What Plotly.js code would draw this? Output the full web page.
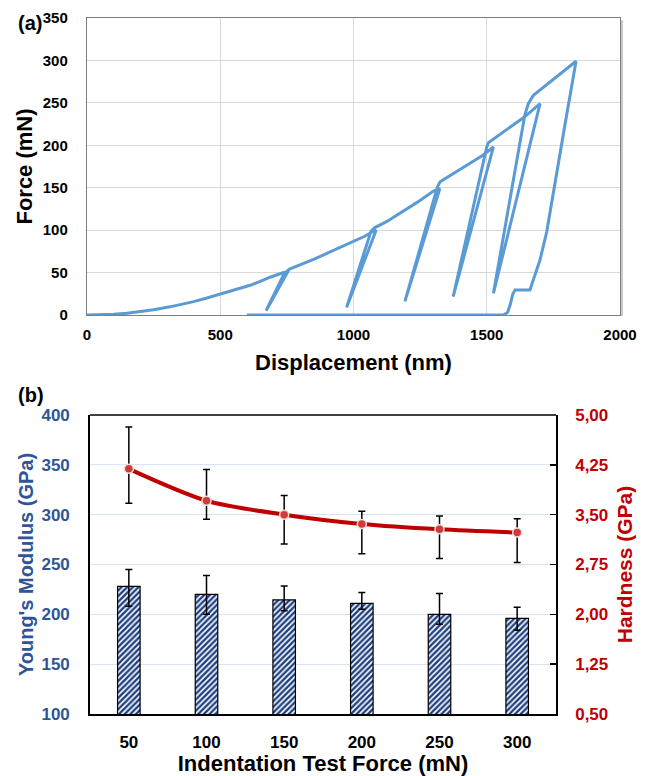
<!DOCTYPE html>
<html>
<head>
<meta charset="utf-8">
<script src="https://cdn.plot.ly/plotly-3.0.1.min.js"></script>
<style>html,body{margin:0;padding:0;background:#fff;}#chart{width:649px;height:776px;}</style>
</head>
<body>
<div id="chart"></div>
<script>
// ---- Panel (a): load–displacement curve ----
const displacement = [0,60,100,150,200,250,311,360,400,450,505,560,612,650,687,737,752,672,740,760,800,850,900,950,1000,1040,1068,1085,974,1066,1080,1124,1174,1240,1300,1324,1193,1315,1325,1410,1487,1525,1374,1500,1506,1568,1640,1700,1525,1643,1656,1675,1755,1835,1795,1756,1725,1700,1681,1662,1606,1597,1588,1578,1562,600];
const force = [0,0,0.8,2,3.8,6.3,9.6,12.8,15.8,20,25,30,35,39.5,44.5,50,50,5,49,54,59,65.5,72.5,79.5,86.5,92.5,97.5,100,9,99,103,110,120,133,146,149,16,151,157,173,188.5,198,21.6,198,203,217,233,249,25.5,236,249,259,279,299,227,155,98,65,48,29.5,29.5,24,12,3,0,0];

// ---- Panel (b): modulus & hardness vs indentation force ----
const testForce = ['50','100','150','200','250','300'];
const modulus = [228,220,214.5,211,200,196];
const modulusErrPlus = [17,19,14,11,21,11];
const modulusErrMinus = [20,20,11,6,10,12];
const hardness = [4.19,3.71,3.50,3.36,3.28,3.23];
const hardnessErrPlus = [0.63,0.47,0.29,0.19,0.20,0.21];
const hardnessErrMinus = [0.52,0.28,0.44,0.45,0.44,0.45];

const FONT = 'Liberation Sans, Arial, sans-serif';
const BLUE = '#2F5597';
const RED = '#C00000';

const traces = [
  {
    x: displacement, y: force, type: 'scatter', mode: 'lines',
    line: {color: '#5B9BD5', width: 3},
    xaxis: 'x', yaxis: 'y', hoverinfo: 'skip'
  },
  {
    x: testForce, y: modulus, type: 'bar', width: 0.29,
    xaxis: 'x2', yaxis: 'y2',
    marker: {
      color: '#ffffff',
      line: {color: '#000000', width: 1.2},
      pattern: {shape: '/', fgcolor: '#1F4080', bgcolor: '#ffffff', size: 4, solidity: 0.6}
    },
    error_y: {type: 'data', symmetric: false, array: modulusErrPlus, arrayminus: modulusErrMinus,
              color: '#000000', thickness: 1.5, width: 3.5}
  },
  {
    x: testForce, y: hardness, type: 'scatter', mode: 'lines+markers',
    xaxis: 'x2', yaxis: 'y3',
    line: {color: RED, width: 4, shape: 'spline', smoothing: 0.8},
    marker: {size: 9, color: '#D03A3A', line: {color: '#F2DCDB', width: 1.5}},
    error_y: {type: 'data', symmetric: false, array: hardnessErrPlus, arrayminus: hardnessErrMinus,
              color: '#000000', thickness: 1.5, width: 3.5}
  }
];

const W = 649, H = 776;
const layout = {
  width: W, height: H,
  margin: {l: 0, r: 0, t: 0, b: 0},
  paper_bgcolor: '#ffffff', plot_bgcolor: '#ffffff',
  showlegend: false,
  separators: ',.',
  font: {family: FONT, color: '#000000'},
  xaxis: {
    domain: [87/W, 620/W], anchor: 'y',
    range: [0, 2000], dtick: 500, tick0: 0,
    showgrid: true, gridcolor: '#d9d9d9', gridwidth: 1,
    showline: true, linecolor: '#7f7f7f', linewidth: 1.2, mirror: true,
    zeroline: false, ticks: '', ticklabelstandoff: 6,
    tickfont: {family: FONT, size: 15, color: '#000', weight: 'bold'},
    title: {text: 'Displacement (nm)', font: {family: FONT, size: 22, color: '#000', weight: 'bold'}, standoff: 12}
  },
  yaxis: {
    domain: [1-315/H, 1-18/H], anchor: 'x',
    range: [0, 350], dtick: 50, tick0: 0,
    showgrid: true, gridcolor: '#d9d9d9', gridwidth: 1,
    showline: true, linecolor: '#7f7f7f', linewidth: 1.2, mirror: true,
    zeroline: false, ticks: '', ticklabelstandoff: 15,
    tickfont: {family: FONT, size: 15, color: '#000', weight: 'bold'},
    title: {text: 'Force (mN)', font: {family: FONT, size: 22, color: '#000', weight: 'bold'}, standoff: 4}
  },
  xaxis2: {
    domain: [90/W, 556/W], anchor: 'y2',
    type: 'category', categoryorder: 'array', categoryarray: testForce,
    showgrid: false, showline: true, linecolor: '#000', linewidth: 1.5,
    ticks: '', ticklabelstandoff: 12,
    tickfont: {family: FONT, size: 17, color: '#000', weight: 'bold'},
    title: {text: 'Indentation Test Force (mN)', font: {family: FONT, size: 22, color: '#000', weight: 'bold'}, standoff: 8}
  },
  yaxis2: {
    domain: [1-714/H, 1-415/H], anchor: 'x2',
    range: [100, 400], dtick: 50, tick0: 100,
    showgrid: true, gridcolor: '#DAE3F3', gridwidth: 1.2,
    showline: true, linecolor: '#000', linewidth: 1.8, mirror: false,
    zeroline: false, ticks: '', ticklabelstandoff: 15,
    tickfont: {family: FONT, size: 17, color: BLUE, weight: 'bold'},
    title: {text: "Young's Modulus (GPa)", font: {family: FONT, size: 20, color: BLUE, weight: 'bold'}, standoff: 2}
  },
  yaxis3: {
    overlaying: 'y2', side: 'right', anchor: 'x2',
    range: [0.5, 5.0], dtick: 0.75, tick0: 0.5, tickformat: '.2f',
    showgrid: false, showline: true, linecolor: '#000', linewidth: 1.8,
    zeroline: false, ticks: 'inside', ticklen: 6, tickwidth: 1.5, tickcolor: '#000',
    ticklabelstandoff: 14,
    tickfont: {family: FONT, size: 17, color: RED, weight: 'bold'},
    title: {text: 'Hardness (GPa)', font: {family: FONT, size: 21, color: RED, weight: 'bold'}, standoff: 10}
  },
  shapes: [
    {type: 'line', xref: 'paper', yref: 'paper', x0: 90/W, x1: 556/W, y0: 1-415/H, y1: 1-415/H,
     line: {color: '#000', width: 1.5}},
    {type: 'line', xref: 'paper', yref: 'paper', x0: 622/W, x1: 622/W, y0: 1-316/H, y1: 1-20/H,
     line: {color: '#c8c8c8', width: 2}}
  ],
  annotations: [
    {text: '(a)', xref: 'paper', yref: 'paper', x: 16/W, y: 1-23/H, xanchor: 'left', yanchor: 'middle',
     showarrow: false, font: {family: FONT, size: 20, color: '#000', weight: 'bold'}},
    {text: '(b)', xref: 'paper', yref: 'paper', x: 16/W, y: 1-395/H, xanchor: 'left', yanchor: 'middle',
     showarrow: false, font: {family: FONT, size: 20, color: '#000', weight: 'bold'}}
  ]
};

Plotly.newPlot('chart', traces, layout, {displayModeBar: false, staticPlot: true});
</script>
</body>
</html>
